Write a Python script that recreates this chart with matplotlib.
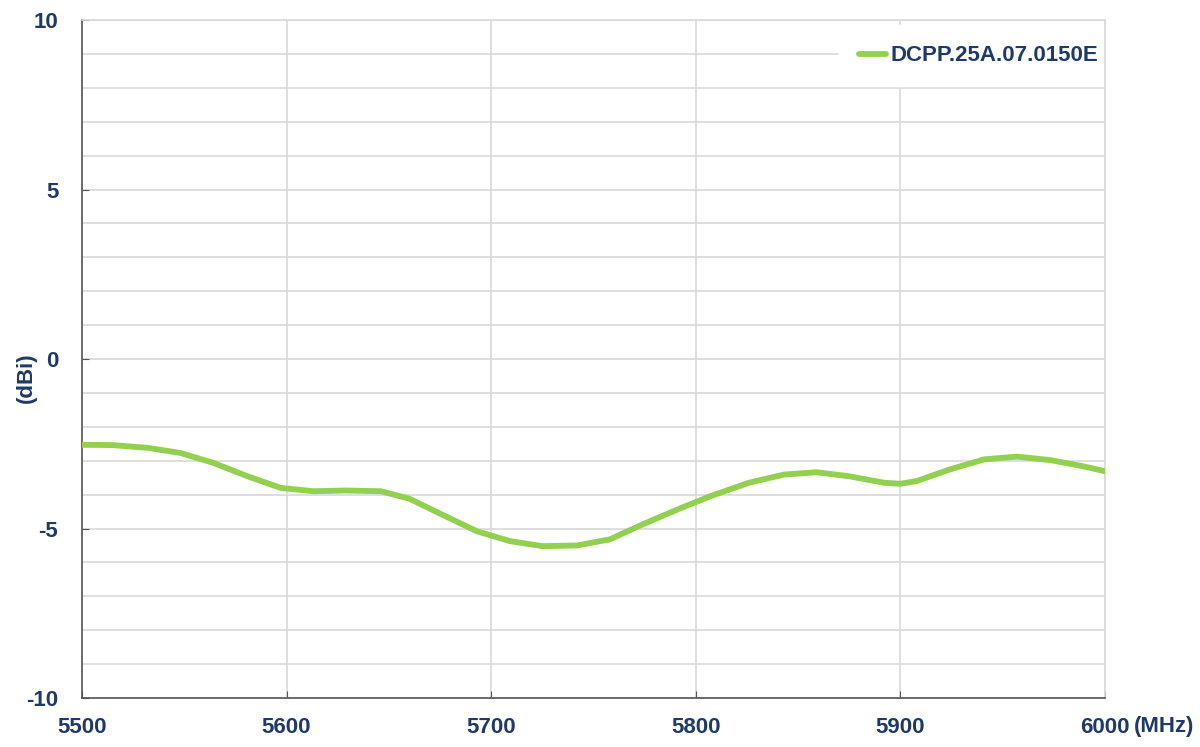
import matplotlib
matplotlib.use("Agg")
import matplotlib.pyplot as plt
from matplotlib.ticker import MultipleLocator

# gain curve (MHz, dBi)
freq = [5500, 5515, 5532, 5548, 5564, 5581, 5597, 5613, 5629, 5646, 5660,
        5676, 5693, 5709, 5725, 5742, 5758, 5774, 5791, 5807, 5826,
        5843, 5859, 5875, 5892, 5900, 5908, 5924, 5941, 5957, 5973, 5989, 6000]
gain = [-2.53, -2.54, -2.62, -2.77, -3.06, -3.46, -3.80, -3.90, -3.88, -3.90, -4.12,
        -4.59, -5.08, -5.37, -5.52, -5.50, -5.32, -4.88, -4.44, -4.05, -3.65,
        -3.41, -3.34, -3.46, -3.65, -3.68, -3.60, -3.26, -2.96, -2.88, -2.98, -3.16, -3.31]
series_name = "DCPP.25A.07.0150E"
xticks = [5500, 5600, 5700, 5800, 5900, 6000]
yticks = [-10, -5, 0, 5, 10]

navy = "#1f3a68"
green = "#92d050"
grid_c = "#d9d9d9"
plt.rcParams["font.family"] = ["Liberation Sans", "DejaVu Sans"]
plt.rcParams["axes.unicode_minus"] = False

fig = plt.figure(figsize=(12, 7.47), dpi=100)
ax = fig.add_axes([0.0683, 0.0656, 0.8525, 0.9076])

ax.plot(freq, gain, color=green, lw=4.2, solid_capstyle="round",
        solid_joinstyle="round", label=series_name, zorder=3)

ax.set_xlim(5500, 6000)
ax.set_ylim(-10, 10)
ax.set_xticks(xticks)
ax.set_yticks(yticks)
ax.yaxis.set_minor_locator(MultipleLocator(1))
ax.grid(True, which="both", color=grid_c, lw=1.2)
ax.set_axisbelow(True)
ax.tick_params(which="minor", length=0)
ax.tick_params(which="major", direction="in", length=5, color="#555555",
               labelsize=16, labelcolor=navy)
ax.tick_params(axis="x", pad=14)
ax.tick_params(axis="y", pad=17)
for lab in ax.get_xticklabels() + ax.get_yticklabels():
    lab.set_fontweight("bold")

ax.spines["left"].set_color("#555555")
ax.spines["bottom"].set_color("#555555")
ax.spines["top"].set_color(grid_c)
ax.spines["right"].set_color(grid_c)
for s in ax.spines.values():
    s.set_linewidth(1.2)

fig.text(0.022, 0.495, "(dBi)", color=navy, fontsize=16, fontweight="bold",
         rotation=90, ha="center", va="center")
fig.text(0.945, 0.028, "(MHz)", color=navy, fontsize=16, fontweight="bold",
         ha="left", va="center")

leg = ax.legend(loc="center right", bbox_to_anchor=(1.013, 0.947), frameon=True,
                fancybox=False, framealpha=1, edgecolor="white",
                handlelength=1.2, handletextpad=0.2, borderpad=0.9, borderaxespad=0,
                prop={"weight": "bold", "size": 16})
leg.set_zorder(2)  # keep the right spine visible over the legend box
for t in leg.get_texts():
    t.set_color(navy)

fig.savefig("out.png", dpi=100, facecolor="white")
